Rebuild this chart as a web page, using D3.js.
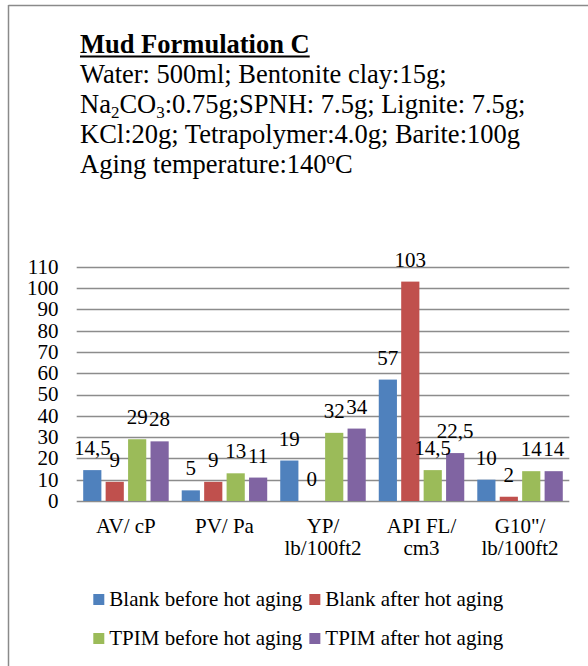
<!DOCTYPE html>
<html>
<head>
<meta charset="utf-8">
<script src="https://cdn.jsdelivr.net/npm/d3@7"></script>
<style>
  body { margin: 0; background: #fff; }
  svg { display: block; }
  svg text { font-family: "Liberation Serif", "Times New Roman", Times, serif; }
</style>
</head>
<body>
<svg id="chart" width="588" height="666"></svg>
<script>
const categories = [["AV/ cP"], ["PV/ Pa"], ["YP/", "lb/100ft2"], ["API FL/", "cm3"], ["G10\"/", "lb/100ft2"]];
const series = ["Blank before hot aging", "Blank after hot aging", "TPIM before hot aging", "TPIM after hot aging"];
const blankBefore = [14.5, 5, 19, 57, 10];
const blankAfter = [9, 9, 0, 103, 2];
const tpimBefore = [29, 13, 32, 14.5, 14];
const tpimAfter = [28, 11, 34, 22.5, 14];
const yTicks = [0, 10, 20, 30, 40, 50, 60, 70, 80, 90, 100, 110];
const colors = ["#4F81BD", "#C0504D", "#9BBB59", "#8064A2"];

const values = [blankBefore, blankAfter, tpimBefore, tpimAfter];
const svg = d3.select("#chart").attr("font-family", "Liberation Serif");

// frame (only top and left edges show)
svg.append("line").attr("x1", 8.5).attr("x2", 588).attr("y1", 5.5).attr("y2", 5.5)
  .attr("stroke", "#8a8a8a").attr("stroke-width", 1.5);
svg.append("line").attr("x1", 8.5).attr("x2", 8.5).attr("y1", 5).attr("y2", 666)
  .attr("stroke", "#8a8a8a").attr("stroke-width", 1.5);

// header text
const head = svg.append("g").attr("font-size", 26.5).attr("fill", "#000");
head.append("text").attr("x", 80).attr("y", 53).attr("font-weight", "bold").text("Mud Formulation C");
const tw = head.select("text").node().getComputedTextLength();
head.append("rect").attr("x", 80).attr("y", 55.5).attr("width", tw).attr("height", 2).attr("fill", "#000");
head.append("text").attr("x", 80).attr("y", 83).text("Water: 500ml; Bentonite clay:15g;");
const l3 = head.append("text").attr("x", 80).attr("y", 113);
l3.append("tspan").text("Na");
l3.append("tspan").attr("font-size", 17).attr("dy", 5).text("2");
l3.append("tspan").attr("dy", -5).text("CO");
l3.append("tspan").attr("font-size", 17).attr("dy", 5).text("3");
l3.append("tspan").attr("dy", -5).text(":0.75g;SPNH: 7.5g; Lignite: 7.5g;");
head.append("text").attr("x", 80).attr("y", 143).text("KCl:20g; Tetrapolymer:4.0g; Barite:100g");
const l5 = head.append("text").attr("x", 80).attr("y", 173);
l5.append("tspan").text("Aging temperature:140");
l5.append("tspan").attr("font-size", 17).attr("dy", -9).text("o");
l5.append("tspan").attr("dy", 9).text("C");

// scales
const y = d3.scaleLinear().domain([0, 110]).range([501, 266.7]);
const x0 = d3.scaleBand().domain(d3.range(categories.length)).range([76.7, 569.3]);
const x1 = d3.scaleBand().domain(d3.range(series.length)).range([6.5, 92]).paddingInner(0.19);

// gridlines
svg.append("g").selectAll("line").data(yTicks).join("line")
  .attr("x1", 76.7).attr("x2", 569.3)
  .attr("y1", d => Math.round(y(d)) + 0.5).attr("y2", d => Math.round(y(d)) + 0.5)
  .attr("stroke", "#8c8c8c").attr("stroke-width", 1.3);

// y tick labels
svg.append("g").attr("font-size", 21).attr("text-anchor", "end")
  .selectAll("text").data(yTicks).join("text")
  .attr("x", 58.5).attr("y", d => y(d)).attr("dy", "0.33em").text(d => d);

// bars
const groups = svg.append("g").selectAll("g").data(categories).join("g")
  .attr("transform", (d, i) => `translate(${x0(i)},0)`);

groups.selectAll("rect").data((d, i) => values.map((s, k) => ({ k, v: s[i] }))).join("rect")
  .attr("x", d => x1(d.k)).attr("width", x1.bandwidth())
  .attr("y", d => y(d.v)).attr("height", d => y(0) - y(d.v))
  .attr("fill", d => colors[d.k]);

const fmt = v => String(v).replace(".", ",");
groups.selectAll("text.lbl").data((d, i) => values.map((s, k) => ({ k, v: s[i] }))).join("text")
  .attr("class", "lbl").attr("font-size", 21).attr("text-anchor", "middle")
  .attr("x", d => x1(d.k) + x1.bandwidth() / 2).attr("y", d => y(d.v) - 15)
  .text(d => fmt(d.v));

// category labels
groups.append("text").attr("font-size", 21).attr("text-anchor", "middle")
  .selectAll("tspan").data(d => d).join("tspan")
  .attr("x", x0.bandwidth() / 2).attr("y", (d, i) => 533 + i * 22).text(d => d);

// legend
const legend = svg.append("g").attr("font-size", 21);
const rows = [[0, 1], [2, 3]];
rows.forEach((row, r) => {
  let lx = 93.3;
  const base = r === 0 ? 606 : 645;
  row.forEach(k => {
    legend.append("rect").attr("x", lx).attr("y", base - 12).attr("width", 11).attr("height", 11).attr("fill", colors[k]);
    const t = legend.append("text").attr("x", lx + 16).attr("y", base).text(series[k]);
    lx = lx + 16 + t.node().getComputedTextLength() + 7;
  });
});
</script>
</body>
</html>
